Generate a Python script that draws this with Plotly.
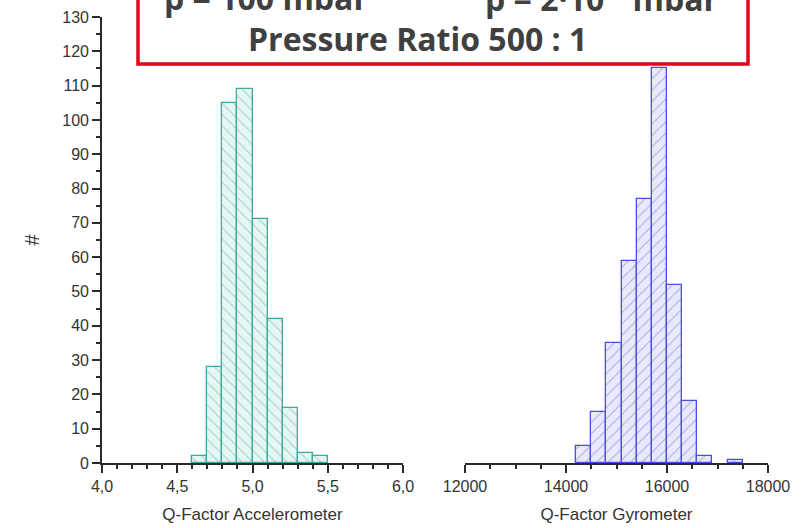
import plotly.graph_objects as go

W, H = 808, 528

# Accelerometer histogram (bins of 0.1 starting at 4.6)
acc_bin_start = 4.6
acc_bin_width = 0.1
acc_counts = [2, 28, 105, 109, 71, 42, 16, 3, 2]

# Gyrometer histogram (bins of 300 starting at 14200)
gyr_bin_start = 14200
gyr_bin_width = 300
gyr_counts = [5, 15, 35, 59, 77, 115, 52, 18, 2, 0, 1]

acc_ticks = [4.0, 4.5, 5.0, 5.5, 6.0]
acc_ticktext = ["4,0", "4,5", "5,0", "5,5", "6,0"]
gyr_ticks = [12000, 14000, 16000, 18000]
gyr_ticktext = ["12000", "14000", "16000", "18000"]
y_ticks = list(range(0, 131, 10))

title_line1_left = "p = 100 mbar"
title_line1_right = "p = 2·10<sup>-1</sup> mbar"
title_line2 = "Pressure Ratio 500 : 1"


def fx(px):
    return px / W


def fy(py):
    return 1 - py / H


acc_x = [acc_bin_start + acc_bin_width * (i + 0.5) for i in range(len(acc_counts))]
gyr_x = [gyr_bin_start + gyr_bin_width * (i + 0.5) for i in range(len(gyr_counts))]

fig = go.Figure()
fig.add_trace(go.Bar(
    x=acc_x, y=acc_counts, width=acc_bin_width,
    xaxis="x", yaxis="y",
    marker=dict(color="#e4f7f3",
                line=dict(color="#3daa9b", width=1.3),
                pattern=dict(shape="\\", fgcolor="#6b9893", bgcolor="#e4f7f3",
                             size=8, solidity=0.12, fillmode="overlay")),
    showlegend=False, hoverinfo="skip",
))
fig.add_trace(go.Bar(
    x=gyr_x, y=[c if c > 0 else None for c in gyr_counts], width=gyr_bin_width,
    xaxis="x2", yaxis="y2",
    marker=dict(color="#e9e9fc",
                line=dict(color="#4c4ce6", width=1.3),
                pattern=dict(shape="/", fgcolor="#6262e0", bgcolor="#e9e9fc",
                             size=8, solidity=0.12, fillmode="overlay")),
    showlegend=False, hoverinfo="skip",
))

tickfont = dict(family="Liberation Sans, Arial, sans-serif", size=16, color="#333333")
titlefont = dict(family="Liberation Sans, Arial, sans-serif", size=17, color="#333333")

ydom = [fy(463), fy(17)]
axcol = "#2a2a2a"

fig.update_layout(
    width=W, height=H,
    margin=dict(l=0, r=0, t=0, b=0),
    paper_bgcolor="white", plot_bgcolor="rgba(0,0,0,0)",
    bargap=0,
    xaxis=dict(domain=[fx(102), fx(403)], range=[4.0, 6.0], anchor="y",
               tickvals=acc_ticks, ticktext=acc_ticktext,
               ticks="outside", ticklen=8, tickwidth=1.6, tickcolor=axcol,
               minor=dict(dtick=0.1, tick0=4.0, ticks="outside", ticklen=4, tickwidth=1.6, tickcolor=axcol),
               showline=True, linecolor=axcol, linewidth=1.6,
               showgrid=False, zeroline=False, tickfont=tickfont,
               title=dict(text="Q-Factor Accelerometer", font=titlefont, standoff=14),
               automargin=False),
    yaxis=dict(domain=ydom, range=[0, 130], anchor="x",
               tickvals=y_ticks,
               ticks="outside", ticklen=8, tickwidth=1.6, tickcolor=axcol,
               minor=dict(dtick=5, tick0=0, ticks="outside", ticklen=4, tickwidth=1.6, tickcolor=axcol),
               showline=True, linecolor=axcol, linewidth=1.6,
               showgrid=False, zeroline=False, tickfont=tickfont,
               title=dict(text="#", font=dict(family="Liberation Sans, Arial, sans-serif", size=20, color="#333333"), standoff=17),
               automargin=False),
    xaxis2=dict(domain=[fx(465), fx(768)], range=[12000, 18000], anchor="y2",
                tickvals=gyr_ticks, ticktext=gyr_ticktext,
                ticks="outside", ticklen=8, tickwidth=1.6, tickcolor=axcol,
                minor=dict(dtick=500, tick0=12000, ticks="outside", ticklen=4, tickwidth=1.6, tickcolor=axcol),
                showline=True, linecolor=axcol, linewidth=1.6,
                showgrid=False, zeroline=False, tickfont=tickfont,
                title=dict(text="Q-Factor Gyrometer", font=titlefont, standoff=14),
                automargin=False),
    yaxis2=dict(domain=ydom, range=[0, 130], anchor="x2", visible=False),
    shapes=[dict(type="rect", xref="paper", yref="paper",
                 x0=fx(138), x1=fx(748), y0=fy(64), y1=fy(-10),
                 line=dict(color="#e0081a", width=3.5), fillcolor="white", layer="above")],
)

bigfont = dict(family="Open Sans, Lato, sans-serif", size=32, color="#404040")
fig.add_annotation(text="<b>" + title_line2 + "</b>", xref="paper", yref="paper",
                   x=fx(417), y=fy(38.5), xanchor="center", yanchor="middle",
                   showarrow=False, font=bigfont)
fig.add_annotation(text="<b>" + title_line1_left + "</b>", xref="paper", yref="paper",
                   x=fx(162), y=fy(-3), xanchor="left", yanchor="middle",
                   showarrow=False, font=bigfont)
fig.add_annotation(text="<b>" + title_line1_right + "</b>", xref="paper", yref="paper",
                   x=fx(483), y=fy(-3), xanchor="left", yanchor="middle",
                   showarrow=False, font=bigfont)

fig.write_html("out.html", config={"displayModeBar": False},
               post_script="document.body.style.margin='0px';")
